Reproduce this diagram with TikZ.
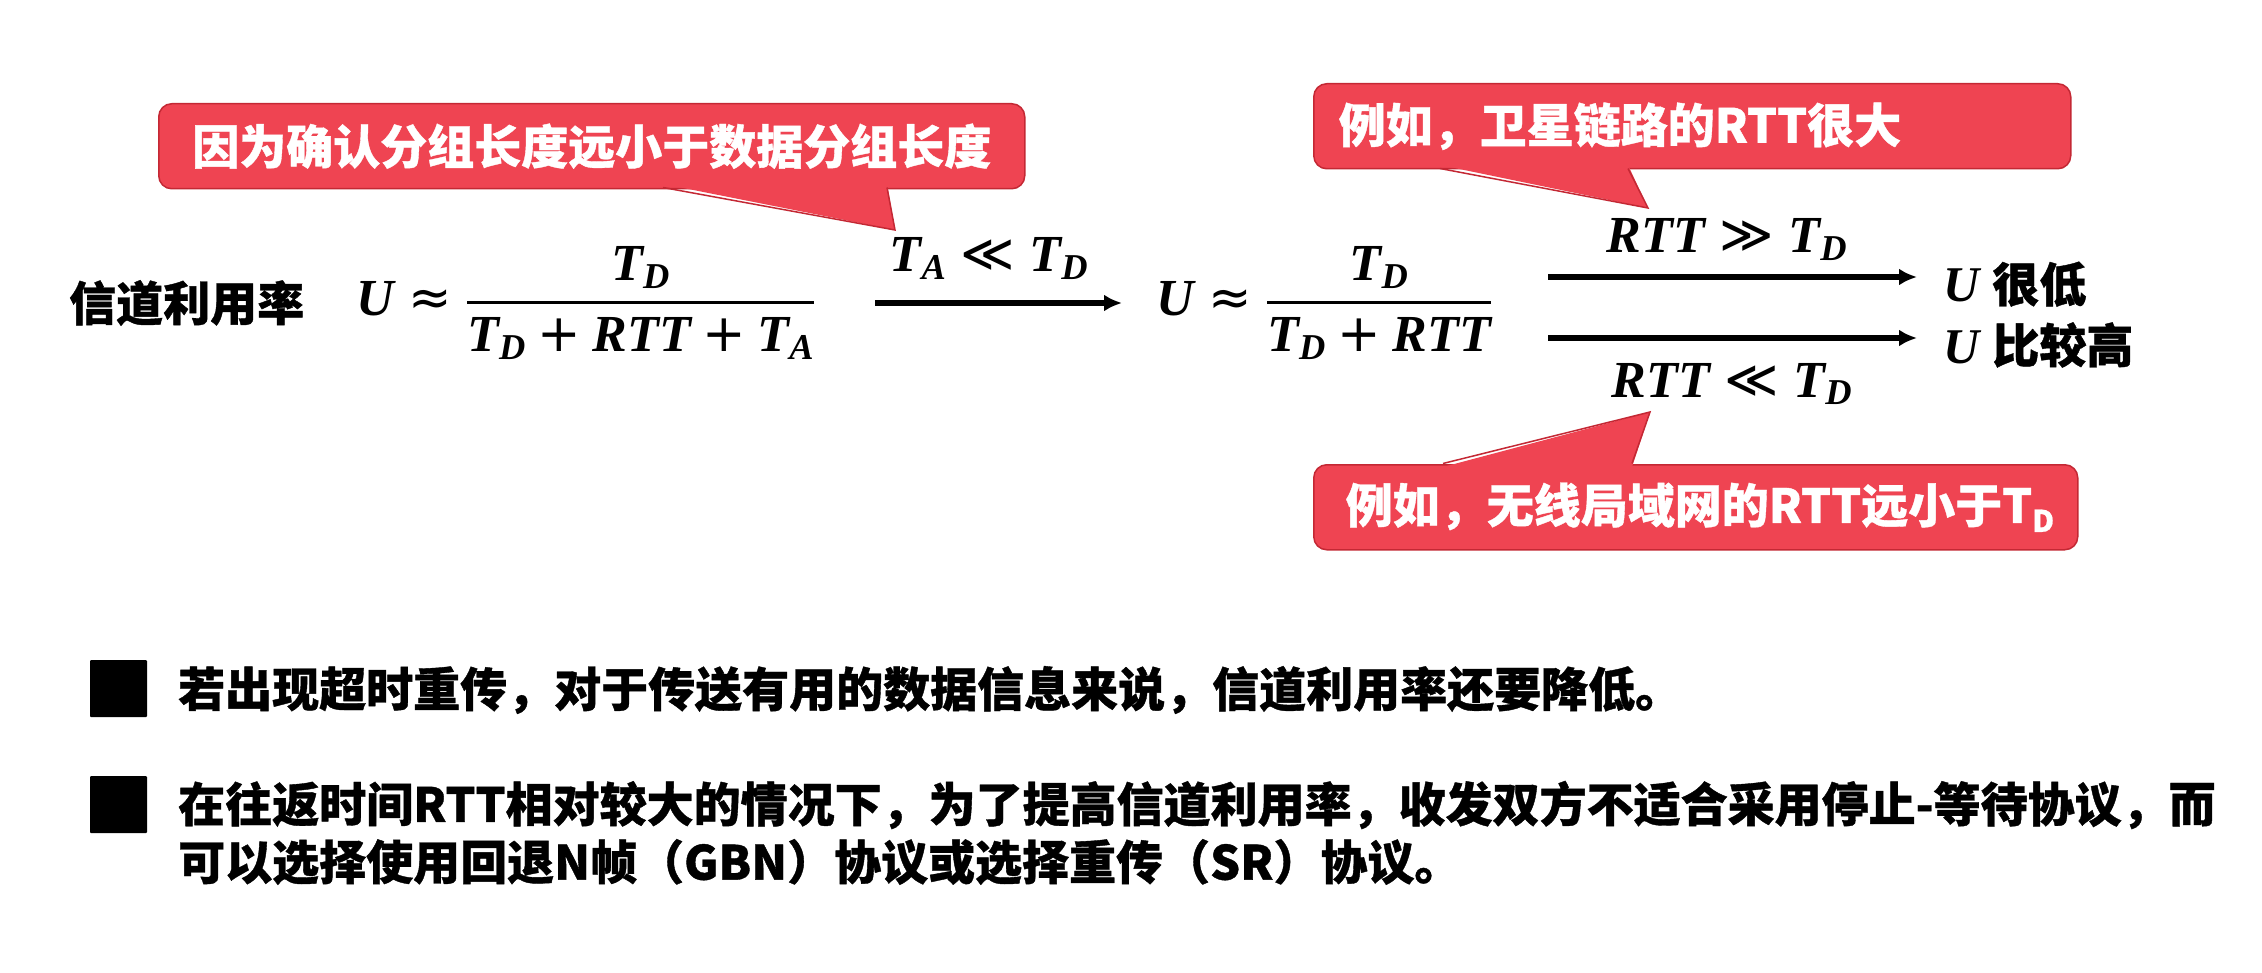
\RequirePackage{fix-cm}
\documentclass[tikz,border=0pt]{standalone}
\usepackage{amsmath}
\usepackage{fontspec}
\usepackage{xcolor}
\usetikzlibrary{arrows.meta}
\usetikzlibrary{positioning}
\newfontfamily\cjk{Noto Sans CJK SC}[BoldFeatures={FakeBold=0.8}]
\newfontfamily\mfont{Liberation Serif}
\newfontfamily\symfont{DejaVu Sans}
\newcommand{\mv}[1]{\text{\mfont\bfseries\itshape #1}}
\newcommand{\ms}[1]{\mathbin{\text{\symfont #1}}}
\newcommand{\mr}[1]{\mathrel{\text{\symfont #1}}}
\definecolor{noteRed}{RGB}{239,68,82}
\definecolor{noteEdge}{RGB}{196,40,52}

\begin{document}
\begin{tikzpicture}[x=1pt,y=-1pt,
    txt/.style={font=\cjk\bfseries\fontsize{47}{56}\selectfont, inner sep=0pt},
    eq/.style={font=\fontsize{52}{62}\selectfont, inner sep=0pt},
    note/.style={txt, fill=noteRed, draw=noteEdge, line width=1.5pt, rounded corners=13pt,
                 text=white, anchor=north west, minimum height=85pt},
    conn/.style={line width=5.5pt, -{Latex[length=18pt,width=17pt]}},
    bullet/.style={fill=black, minimum size=57pt, inner sep=0pt, rounded corners=1pt}]
  \fill[white] (0,0) rectangle (2262,973);

  % utilisation formula
  \node[txt, anchor=west] (rateLbl) at (69,303) {信道利用率};
  \node[eq, anchor=base west] (eqFull) at (356,316)
       {$\mv{U} \mr{≈} \genfrac{}{}{3pt}{0}{\mv{T}_{\mv{D}}}{\mv{T}_{\mv{D}} \ms{+} \mv{RTT} \ms{+} \mv{T}_{\mv{A}}}$};
  \node[eq, anchor=base west] (eqShort) at (1156,316)
       {$\mv{U} \mr{≈} \genfrac{}{}{3pt}{0}{\mv{T}_{\mv{D}}}{\mv{T}_{\mv{D}} \ms{+} \mv{RTT}}$};
  \node[eq, anchor=base] (condA) at (989,272) {$\mv{T}_{\mv{A}} \mr{≪} \mv{T}_{\mv{D}}$};

  \coordinate (gA) at (875,303);
  \coordinate (gB) at (1122,303);
  \draw[conn] (gA) -- (gB);

  % the two cases
  \coordinate (hiS) at (1548,277);
  \coordinate (hiE) at (1917,277);
  \coordinate (loS) at (1548,338);
  \coordinate (loE) at (1917,338);
  \draw[conn] (hiS) -- (hiE);
  \draw[conn] (loS) -- (loE);
  \node[eq, anchor=base] (condHi) at (1727,253) {$\mv{RTT} \mr{≫} \mv{T}_{\mv{D}}$};
  \node[eq, anchor=base] (condLo) at (1732,397) {$\mv{RTT} \mr{≪} \mv{T}_{\mv{D}}$};
  \node[txt, anchor=base west] (resHi) at (1943,302)
       {{\mfont\bfseries\itshape\fontsize{50}{56}\selectfont U}\;很低};
  \node[txt, anchor=base west] (resLo) at (1943,363)
       {{\mfont\bfseries\itshape\fontsize{50}{56}\selectfont U}\;比较高};

  % callouts
  \node[note, minimum width=866pt] (noteAck) at (158,103) {因为确认分组长度远小于数据分组长度};
  \coordinate (tipAck) at (895,230);
  \fill[noteRed] (663,184) -- (tipAck) -- (887,184) -- cycle;
  \draw[noteEdge, line width=1.5pt] (663,187.5) -- (tipAck) -- (887,187.5);

  \node[note, text width=707pt, align=left, inner xsep=25pt] (noteSat) at (1313,83)
       {例如，卫星链路的RTT很大};
  \coordinate (tipSat) at (1648,208);
  \fill[noteRed] (1440,165) -- (tipSat) -- (1628,165) -- cycle;
  \draw[noteEdge, line width=1.5pt] (1440,168.5) -- (tipSat) -- (1628,168.5);

  \node[note, text width=700pt, align=left, inner xsep=32pt] (noteLan) at (1313,464)
       {例如，无线局域网的RTT远小于T\raisebox{-9pt}{\fontsize{30}{30}\selectfont D}};
  \coordinate (tipLan) at (1650,412);
  \fill[noteRed] (1443,467) -- (tipLan) -- (1632,467) -- cycle;
  \draw[noteEdge, line width=1.5pt] (1443,463.5) -- (tipLan) -- (1632,463.5);

  % remarks
  \node[bullet] (dotOne) at (118.5,688.5) {};
  \node[txt, anchor=west] (lineOne) at (178,690)
       {若出现超时重传，对于传送有用的数据信息来说，信道利用率还要降低。};
  \node[bullet] (dotTwo) at (118.5,804.5) {};
  \node[txt, anchor=west] (lineTwo) at (178,805)
       {在往返时间RTT相对较大的情况下，为了提高信道利用率，收发双方不适合采用停止-等待协议，而};
  \node[txt, anchor=west] (lineThree) at (178,862)
       {可以选择使用回退N帧（GBN）协议或选择重传（SR）协议。};
\end{tikzpicture}
\end{document}
